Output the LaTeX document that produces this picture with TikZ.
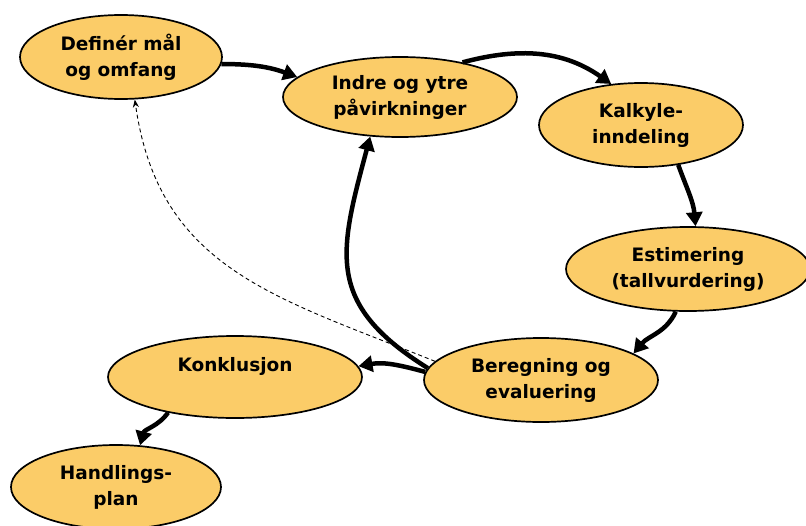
\documentclass[tikz,border=0pt]{standalone}
\usepackage{fontspec}
\setmainfont{DejaVu Sans}
\usetikzlibrary{shapes.geometric,arrows.meta}
\definecolor{phaseFill}{RGB}{251,204,104}
\colorlet{phaseLine}{black}
\tikzstyle{phaseNode}=[ellipse,draw=phaseLine,fill=phaseFill,line width=1.7pt,inner sep=0pt,align=center,font=\bfseries\fontsize{18.5}{26}\selectfont]
\tikzstyle{flowArrow}=[line width=4.5pt,-{Triangle[length=14pt,width=16pt]}]
\tikzstyle{backArrow}=[line width=0.9pt,dash pattern=on 4pt off 3pt,-{Stealth[length=8pt,width=6pt]}]

\begin{document}
\begin{tikzpicture}[x=1pt,y=1pt]
\useasboundingbox (0,0) rectangle (806,-525);
        \node[phaseNode,minimum width=202pt,minimum height=84pt] (maal) at (121,-57) {Definér mål\\og omfang};
        \node[phaseNode,minimum width=234pt,minimum height=80pt] (paavirk) at (400,-97) {Indre og ytre\\påvirkninger};
        \node[phaseNode,minimum width=204pt,minimum height=84pt] (kalkyle) at (641,-125) {Kalkyle-\\inndeling};
        \node[phaseNode,minimum width=244pt,minimum height=84pt] (estimering) at (688,-269) {Estimering\\(tallvurdering)};
        \node[phaseNode,minimum width=234pt,minimum height=84pt] (beregning) at (541,-380) {Beregning og\\evaluering};
        \node[phaseNode,minimum width=254pt,minimum height=82pt] (konklusjon) at (235,-377) {Konklusjon\\\mbox{}};
        \node[phaseNode,minimum width=210pt,minimum height=84pt] (handling) at (116,-487) {Handlings-\\plan};
        % hovedflyt
        \draw[flowArrow] (maal.-4) to[out=0,in=160] (paavirk.169);
        \draw[flowArrow] (paavirk.29) to[out=15,in=145] (kalkyle.126);
        \draw[flowArrow] (kalkyle.-47) to[out=-70,in=95] (estimering.80);
        \draw[flowArrow] (estimering.-106) to[out=-115,in=50] (beregning.16);
        \draw[flowArrow] (beregning.174) to[out=148,in=-105,looseness=1.3] (paavirk.233);
        \draw[flowArrow] (beregning.176) to[out=165,in=10] (konklusjon.5);
        \draw[flowArrow] (konklusjon.208) to[out=235,in=75] (handling.60);
        % tilbake til start
        \draw[backArrow] (beregning.170) to[out=158,in=-82,looseness=1.1] (maal.-72);
\end{tikzpicture}
\end{document}
